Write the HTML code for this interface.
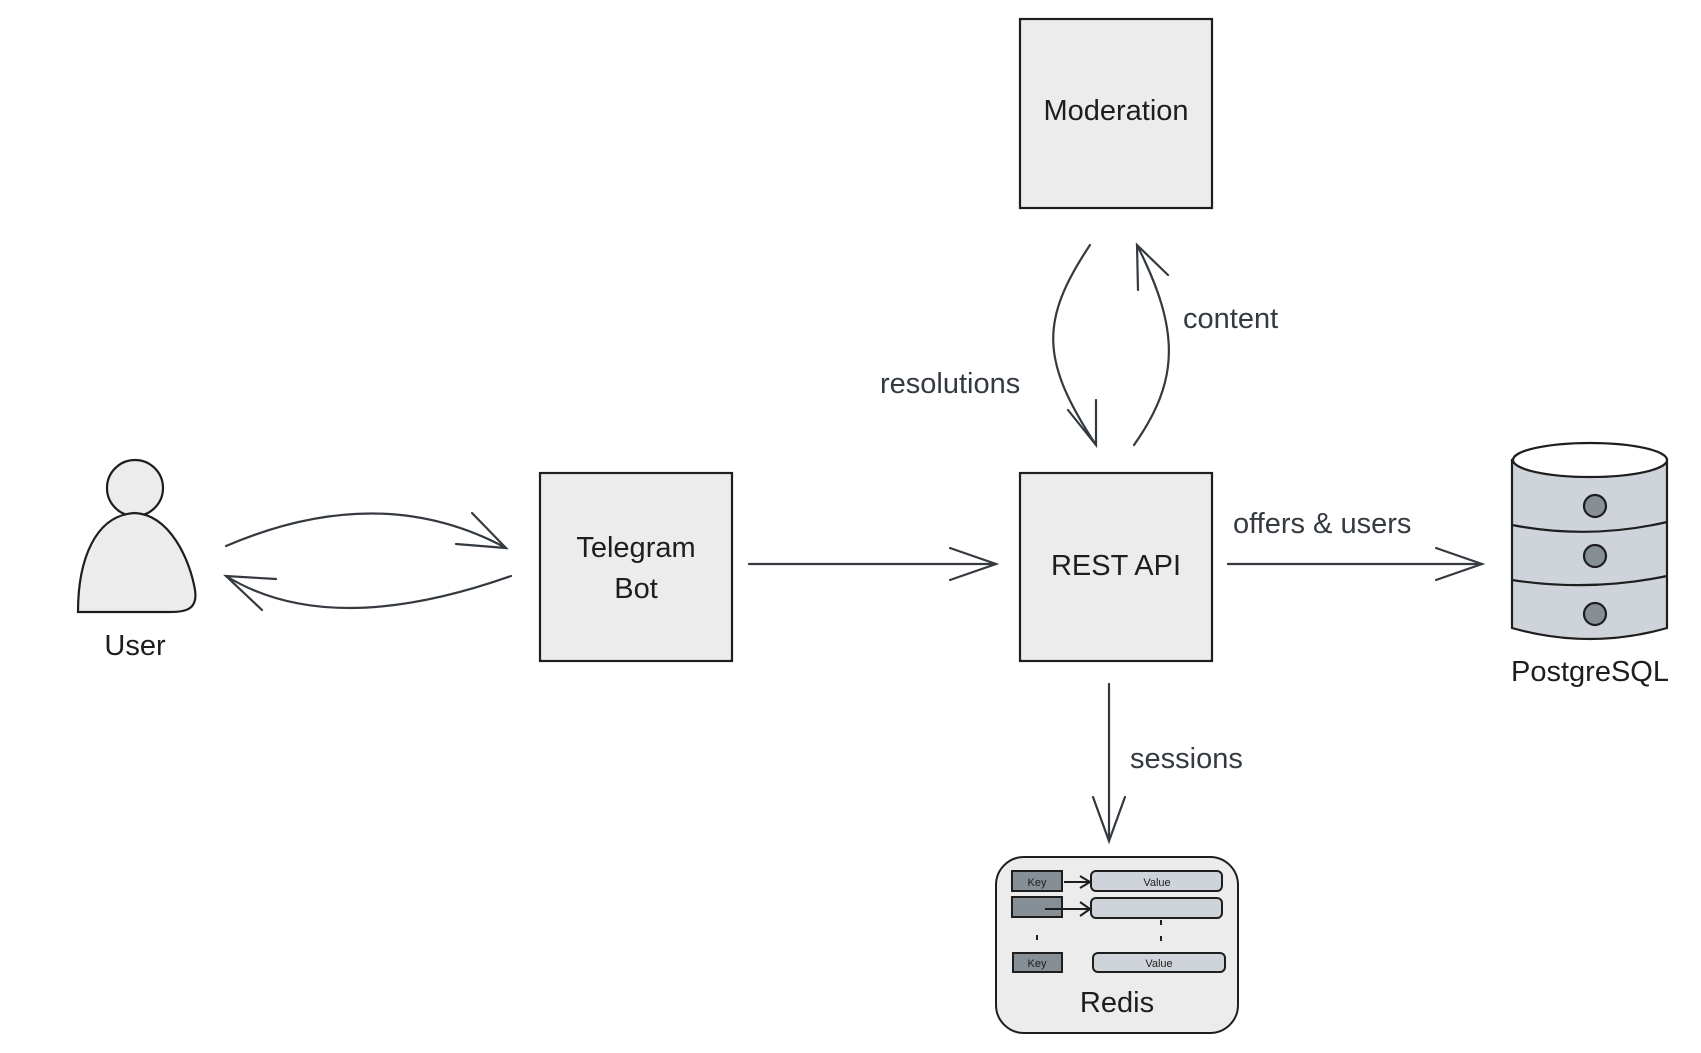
<!DOCTYPE html>
<html><head><meta charset="utf-8"><style>
html,body{margin:0;padding:0;background:#fff;}
svg{display:block;}
text{font-family:"Liberation Sans","DejaVu Sans",sans-serif;fill:#1e1e1e;}
</style></head><body>
<svg width="1701" height="1053" viewBox="0 0 1701 1053" xmlns="http://www.w3.org/2000/svg">
<g stroke="#1e1e1e" stroke-width="2.2" fill="#ececec">
<rect x="1020" y="19" width="192" height="189"/>
<rect x="1020" y="473" width="192" height="188"/>
<rect x="540" y="473" width="192" height="188"/>
<circle cx="135" cy="488" r="28"/>
<path d="M78 612 C78 560 95 515 135 513 C170 515 190 560 195 590 C198 610 185 612 170 612 Z"/>
</g>
<!-- postgres -->
<g stroke="#1e1e1e" stroke-width="2.2">
<path d="M1512 460 L1512 628 Q1590 650 1667 628 L1667 460 Z" fill="#ced4da"/>
<ellipse cx="1590" cy="460" rx="77" ry="17" fill="#fff"/>
<path d="M1512 525 Q1590 540 1667 522" fill="none"/>
<path d="M1512 580 Q1590 592 1667 576" fill="none"/>
<circle cx="1595" cy="506" r="11" fill="#868e96"/>
<circle cx="1595" cy="556" r="11" fill="#868e96"/>
<circle cx="1595" cy="614" r="11" fill="#868e96"/>
</g>
<!-- redis -->
<g stroke="#1e1e1e" stroke-width="2">
<rect x="996" y="857" width="242" height="176" rx="28" fill="#ececec"/>
<rect x="1012" y="871" width="50" height="20" fill="#868e96"/>
<rect x="1091" y="871" width="131" height="20" rx="5" fill="#ced4da"/>
<rect x="1012" y="897" width="50" height="20" fill="#868e96"/>
<rect x="1091" y="898" width="131" height="20" rx="5" fill="#ced4da"/>
<rect x="1013" y="953" width="49" height="19" fill="#868e96"/>
<rect x="1093" y="953" width="132" height="19" rx="5" fill="#ced4da"/>
<path d="M1064 882 L1090 882 M1080 876 L1090 882 L1080 888 M1045 909 L1090 909 M1080 902 L1090 909 L1080 916" fill="none"/>
<path d="M1037 935 L1037 940 M1161 920 L1161 925 M1161 936 L1161 941" fill="none"/>
</g>
<g font-size="11" text-anchor="middle">
<text x="1037" y="886">Key</text><text x="1157" y="886">Value</text>
<text x="1037" y="967">Key</text><text x="1159" y="967">Value</text>
</g>
<g font-size="29" text-anchor="middle">
<text x="1116" y="120">Moderation</text>
<text x="1116" y="575">REST API</text>
<text x="636" y="557">Telegram</text>
<text x="636" y="598">Bot</text>
<text x="135" y="655">User</text>
<text x="1590" y="681">PostgreSQL</text>
<text x="1117" y="1012">Redis</text>
</g>
<g font-size="29">
<text x="880" y="393" style="fill:#343a40">resolutions</text>
<text x="1183" y="328" style="fill:#343a40">content</text>
<text x="1233" y="533" style="fill:#343a40">offers &amp; users</text>
<text x="1130" y="768" style="fill:#343a40">sessions</text>
</g>
<g stroke="#343a40" stroke-width="2.2" fill="none" stroke-linecap="round">
<path d="M226 546 Q380 480 506 548"/><path d="M472 513 L506 548 L456 544"/>
<path d="M511 576 Q330 640 226 576"/><path d="M276 579 L226 576 L262 610"/>
<path d="M749 564 L996 564"/><path d="M950 548 L996 564 L950 580"/>
<path d="M1228 564 L1482 564"/><path d="M1436 548 L1482 564 L1436 580"/>
<path d="M1109 684 L1109 841"/><path d="M1093 797 L1109 841 L1125 797"/>
<path d="M1090 245 C1040 320 1040 360 1096 445"/><path d="M1068 410 L1096 445 L1096 400"/>
<path d="M1134 445 C1180 380 1180 330 1137 245"/><path d="M1138 290 L1137 245 L1168 275"/>
</g>
</svg>
</body></html>
